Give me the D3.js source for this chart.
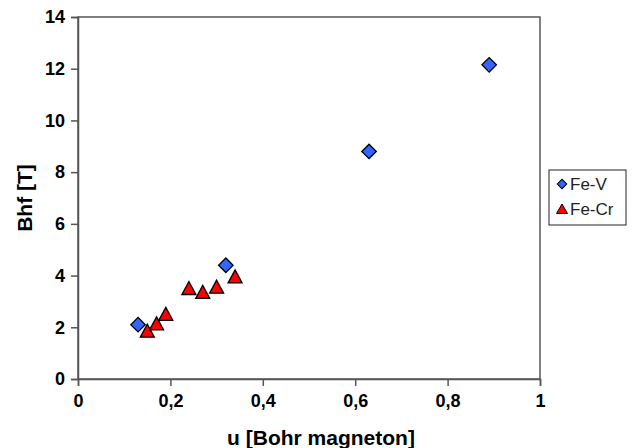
<!DOCTYPE html>
<html>
<head>
<meta charset="utf-8">
<script src="https://cdn.jsdelivr.net/npm/d3@7"></script>
<style>
  body { margin: 0; background: #fff; }
  text { font-family: "Liberation Sans", Arial, sans-serif; }
</style>
</head>
<body>
<svg id="chart" width="635" height="448"></svg>
<script>
// data
let feV_u  = [0.13, 0.32, 0.63, 0.89];
let feV_B  = [2.1, 4.4, 8.8, 12.15];
let feCr_u = [0.15, 0.17, 0.19, 0.24, 0.27, 0.30, 0.34];
let feCr_B = [1.85, 2.13, 2.5, 3.5, 3.35, 3.55, 3.95];
let xTicks = [0, 0.2, 0.4, 0.6, 0.8, 1];
let yTicks = [0, 2, 4, 6, 8, 10, 12, 14];
let seriesNames = ["Fe-V", "Fe-Cr"];

let minx = 78, maxx = 540;
let miny = 17, maxy = 379;

let xScale = d3.scaleLinear().domain([0, 1]).range([minx, maxx]);
let yScale = d3.scaleLinear().domain([0, 14]).range([maxy, miny]);

let svg = d3.select("#chart");
let axisColor = "#555";

// plot frame
svg.append("rect")
  .attr("x", minx).attr("y", miny)
  .attr("width", maxx - minx).attr("height", maxy - miny)
  .attr("fill", "none").attr("stroke", axisColor).attr("stroke-width", 1.5);

let fmt = d => String(d).replace(".", ",");

let x_axis = d3.axisBottom(xScale).tickValues(xTicks).tickFormat(fmt).tickSize(7).tickPadding(8);
let y_axis = d3.axisLeft(yScale).tickValues(yTicks).tickFormat(fmt).tickSize(7).tickPadding(6);

let gx = svg.append("g").attr("transform", `translate(0, ${maxy})`).call(x_axis);
let gy = svg.append("g").attr("transform", `translate(${minx}, 0)`).call(y_axis);

[gx, gy].forEach(g => {
  g.select(".domain").attr("stroke", axisColor).attr("stroke-width", 1.5);
  g.selectAll(".tick line").attr("stroke", axisColor).attr("stroke-width", 1.5);
  g.selectAll(".tick text")
    .attr("fill", "#000")
    .style("font-family", "Liberation Sans, Arial, sans-serif")
    .style("font-size", "18px")
    .style("font-weight", "bold");
});

// axis titles
svg.append("text")
  .attr("x", (minx + maxx) / 2 + 12).attr("y", 445)
  .attr("text-anchor", "middle")
  .style("font-size", "21px").style("font-weight", "bold").attr("fill", "#000")
  .text("u [Bohr magneton]");
svg.append("text")
  .attr("transform", `translate(32, ${(miny + maxy) / 2}) rotate(-90)`)
  .attr("text-anchor", "middle")
  .style("font-size", "21px").style("font-weight", "bold").attr("fill", "#000")
  .text("Bhf [T]");

let diamond = d3.symbol().type(d3.symbolSquare).size(105)();
let triangle = "M0,-7L7,6L-7,6Z";

let feV = feV_u.map((u, i) => ({u: u, B: feV_B[i]}));
let feCr = feCr_u.map((u, i) => ({u: u, B: feCr_B[i]}));

svg.selectAll(".cr").data(feCr).enter().append("path")
  .attr("class", "cr")
  .attr("d", triangle)
  .attr("transform", d => `translate(${xScale(d.u)}, ${yScale(d.B)})`)
  .attr("fill", "#ff0000").attr("stroke", "#000").attr("stroke-width", 1.3);

svg.selectAll(".v").data(feV).enter().append("path")
  .attr("class", "v")
  .attr("d", diamond)
  .attr("transform", d => `translate(${xScale(d.u)}, ${yScale(d.B)}) rotate(45)`)
  .attr("fill", "#3366ff").attr("stroke", "#000").attr("stroke-width", 1.3);

// legend
let lg = svg.append("g");
lg.append("rect")
  .attr("x", 549).attr("y", 170).attr("width", 77).attr("height", 55)
  .attr("fill", "#fff").attr("stroke", "#222").attr("stroke-width", 1);
lg.append("path")
  .attr("d", d3.symbol().type(d3.symbolSquare).size(45)())
  .attr("transform", "translate(562, 184) rotate(45)")
  .attr("fill", "#3366ff").attr("stroke", "#000").attr("stroke-width", 1);
lg.append("path")
  .attr("d", "M0,-5L5.5,4.5L-5.5,4.5Z")
  .attr("transform", "translate(562, 209)")
  .attr("fill", "#ff0000").attr("stroke", "#000").attr("stroke-width", 1);
lg.selectAll(".lt").data(seriesNames).enter().append("text")
  .attr("class", "lt")
  .attr("x", 570).attr("y", (d, i) => 190 + i * 25)
  .style("font-size", "17px").attr("fill", "#222")
  .text(d => d);
</script>
</body>
</html>
